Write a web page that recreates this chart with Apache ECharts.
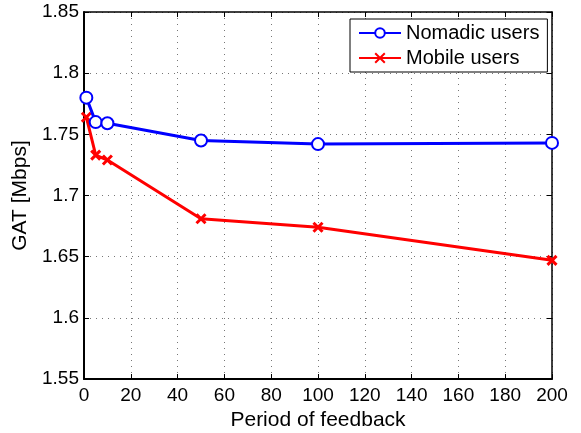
<!DOCTYPE html>
<html>
<head>
<meta charset="utf-8">
<script src="https://cdn.jsdelivr.net/npm/echarts@6/dist/echarts.min.js"></script>
<style>
  html, body { margin: 0; padding: 0; background: #fff; }
  #chart { width: 581px; height: 433px; }
</style>
</head>
<body>
<div id="chart"></div>
<script>
  // period of feedback
  var periods = [1, 5, 10, 50, 100, 200];
  var nomadic = [1.780, 1.760, 1.759, 1.745, 1.742, 1.743];
  var mobile = [1.764, 1.733, 1.729, 1.681, 1.674, 1.647];
  var seriesNames = ['Nomadic users', 'Mobile users'];

  function pairs(xs, ys) {
    return xs.map(function (x, i) { return [x, ys[i]]; });
  }

  var font = 'Liberation Sans, Arial, Helvetica, sans-serif';
  var crossPath = 'path://M0,0L10,10M10,0L0,10';

  var chart = echarts.init(document.getElementById('chart'));
  var gridLine = { show: true, lineStyle: { color: '#777', type: [1, 5], width: 1 } };
  var tick = { show: true, inside: true, length: 5, lineStyle: { color: '#000', width: 1 } };

  chart.setOption({
    animation: false,
    textStyle: { fontFamily: font },
    grid: { left: 84, right: 29, top: 12, bottom: 54, outerBoundsMode: 'none' },
    legend: {
      orient: 'vertical',
      left: 350,
      top: 19,
      data: seriesNames,
      backgroundColor: '#fff',
      borderColor: '#000',
      borderWidth: 1,
      borderRadius: 0,
      padding: [4, 8, 4, 8],
      itemWidth: 42,
      itemHeight: 12,
      itemGap: 5,
      textStyle: { fontSize: 20, color: '#000', fontFamily: font }
    },
    xAxis: [{
      type: 'value',
      min: 0, max: 200, interval: 20,
      name: 'Period of feedback',
      nameLocation: 'middle',
      nameGap: 29,
      nameTextStyle: { fontSize: 21, color: '#000' },
      axisLine: { show: true, onZero: false, lineStyle: { color: '#000', width: 2 } },
      axisTick: tick,
      axisLabel: { fontSize: 19, color: '#000', margin: 7 },
      splitLine: gridLine
    }, {
      type: 'value',
      position: 'top',
      min: 0, max: 200, interval: 20,
      axisLine: { show: true, onZero: false, lineStyle: { color: '#000', width: 1.5 } },
      axisTick: tick,
      axisLabel: { show: false },
      splitLine: { show: false }
    }],
    yAxis: [{
      type: 'value',
      min: 1.55, max: 1.85, interval: 0.05,
      name: 'GAT [Mbps]',
      nameLocation: 'middle',
      nameGap: 49,
      nameTextStyle: { fontSize: 21, color: '#000' },
      axisLine: { show: true, onZero: false, lineStyle: { color: '#000', width: 2 } },
      axisTick: tick,
      axisLabel: {
        fontSize: 19, color: '#000', margin: 5,
        formatter: function (v) { return String(parseFloat(v.toFixed(2))); }
      },
      splitLine: gridLine
    }, {
      type: 'value',
      position: 'right',
      min: 1.55, max: 1.85, interval: 0.05,
      axisLine: { show: true, onZero: false, lineStyle: { color: '#000', width: 1.5 } },
      axisTick: tick,
      axisLabel: { show: false },
      splitLine: { show: false }
    }],
    series: [{
      name: seriesNames[0],
      type: 'line',
      data: pairs(periods, nomadic),
      symbol: 'emptyCircle',
      symbolSize: 12,
      showAllSymbol: true,
      lineStyle: { color: '#0000ff', width: 3 },
      itemStyle: { color: '#0000ff', borderColor: '#0000ff', borderWidth: 3 },
      z: 3
    }, {
      name: seriesNames[1],
      type: 'line',
      data: pairs(periods, mobile),
      symbol: crossPath,
      symbolSize: 9,
      showAllSymbol: true,
      lineStyle: { color: '#ff0000', width: 3 },
      itemStyle: { color: '#ff0000', borderColor: '#ff0000', borderWidth: 3 },
      z: 2
    }]
  });
</script>
</body>
</html>
